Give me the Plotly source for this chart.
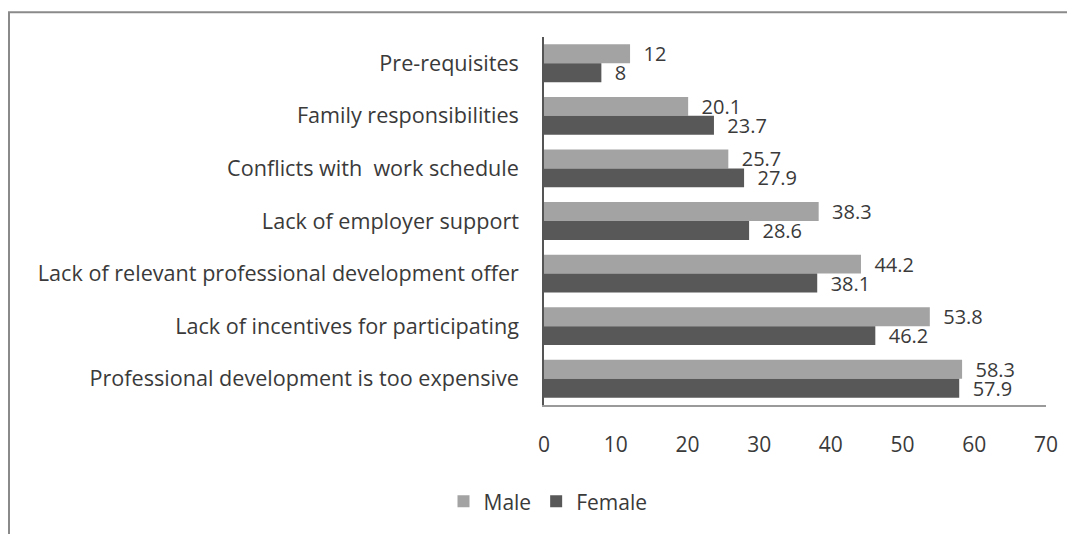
import plotly.graph_objects as go

categories = [
    "Pre-requisites",
    "Family responsibilities",
    "Conflicts with  work schedule",
    "Lack of employer support",
    "Lack of relevant professional development offer",
    "Lack of incentives for participating",
    "Professional development is too expensive",
]
male = [12, 20.1, 25.7, 38.3, 44.2, 53.8, 58.3]
female = [8, 23.7, 27.9, 28.6, 38.1, 46.2, 57.9]
x_ticks = [0, 10, 20, 30, 40, 50, 60, 70]

# page body has an 8px margin, so the figure is laid out in page coords minus 8
OFF = 8
W, H = 1075 - OFF, 534 - OFF
L, R, T, B = 544 - OFF, 29, 37 - OFF, 124
pw, ph = W - L - R, H - T - B

def px_x(p):
    return (p - OFF - L) / pw

def px_y(p):
    return (H - B - (p - OFF)) / ph

font = "Open Sans, DejaVu Sans, sans-serif"
txtcol = "#3a3a3a"
fs = 21

fig = go.Figure()
fig.add_trace(go.Bar(
    y=categories, x=male, name="Male", orientation="h",
    marker=dict(color="#a3a3a3", line=dict(width=0)),
    text=[str(v) for v in male], texttemplate="  %{text}",
    textposition="outside", cliponaxis=False, constraintext="none",
    textfont=dict(size=20, color=txtcol, family=font),
))
fig.add_trace(go.Bar(
    y=categories, x=female, name="Female", orientation="h",
    marker=dict(color="#585858", line=dict(width=0)),
    text=[str(v) for v in female], texttemplate="  %{text}",
    textposition="outside", cliponaxis=False, constraintext="none",
    textfont=dict(size=20, color=txtcol, family=font),
))

fig.update_layout(
    width=W, height=H,
    margin=dict(l=L, r=R, t=T, b=B),
    paper_bgcolor="white", plot_bgcolor="white",
    barmode="group", bargap=0.28, bargroupgap=0,
    font=dict(family=font, size=fs, color=txtcol),
    showlegend=True,
    legend=dict(orientation="h", x=px_x(548), xanchor="center", y=px_y(508), yanchor="middle",
                font=dict(size=fs, color=txtcol), traceorder="normal"),
    shapes=[dict(type="rect", xref="paper", yref="paper",
                 x0=px_x(9), x1=px_x(1085), y0=px_y(545), y1=px_y(12),
                 line=dict(color="#8a8a8a", width=2), layer="below")],
)
fig.update_xaxes(
    range=[0, 70], tickvals=x_ticks, ticktext=[str(v) for v in x_ticks],
    showgrid=False, zeroline=False, showline=True, linecolor="#9a9a9a", linewidth=1.5,
    ticks="", ticklabelstandoff=20, tickfont=dict(size=fs, color=txtcol),
)
fig.update_yaxes(
    autorange="reversed", showgrid=False, zeroline=False, showline=True,
    linecolor="#555555", linewidth=1.5, ticks="", ticklabelstandoff=19,
    tickfont=dict(size=21.6, color=txtcol),
)

fig.write_html("out.html")
